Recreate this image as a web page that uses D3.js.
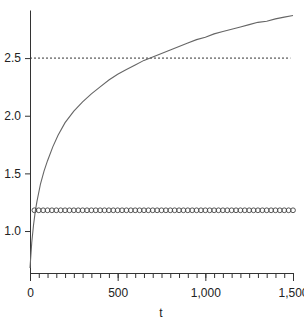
<!DOCTYPE html>
<html>
<head>
<meta charset="utf-8">
<script src="https://cdn.jsdelivr.net/npm/d3@7"></script>
<style>
  body { margin: 0; background: #fff; }
  text { font-family: "Liberation Sans", Arial, sans-serif; font-size: 12px; fill: #222; }
</style>
</head>
<body>
<svg width="304" height="320"></svg>
<script>
// simulated mean curve
var curveT = [0, 10, 20, 30, 40, 60, 80, 100, 130, 160, 200, 250, 300, 350, 400, 450, 500,
    550, 600, 650, 700, 750, 800, 850, 900, 950, 1000, 1050, 1100, 1150, 1200, 1250, 1300,
    1350, 1400, 1450, 1500];
var curveV = [0.68, 0.90, 1.05, 1.17, 1.26, 1.41, 1.52, 1.61, 1.73, 1.83, 1.94, 2.04, 2.12,
    2.19, 2.25, 2.31, 2.36, 2.40, 2.44, 2.48, 2.51, 2.54, 2.57, 2.60, 2.63, 2.66, 2.68, 2.71,
    2.73, 2.75, 2.77, 2.79, 2.81, 2.82, 2.84, 2.855, 2.87];

// circle markers
var markT = d3.range(25, 1501, 25);
var markV = markT.map(function() { return 1.18; });

var refLevel = 2.5;
var yTicks = [1.0, 1.5, 2.0, 2.5];
var xMajor = [0, 500, 1000, 1500];
var xMinor = d3.range(0, 1501, 50);

var svg = d3.select("svg");

var x = d3.scaleLinear().domain([0, 1500]).range([30, 293]);
var y = d3.scaleLinear().domain([0.636, 2.917]).range([273, 10]);

// x axis minor ticks
svg.append("g")
    .attr("transform", "translate(0,273)")
    .call(d3.axisBottom(x).tickValues(xMinor).tickSize(5).tickSizeOuter(0).tickFormat(""))
    .call(function(g) {
        g.select(".domain").attr("stroke", "#333");
        g.selectAll("line").attr("stroke", "#333");
    });

// x axis major ticks + labels
svg.append("g")
    .attr("transform", "translate(0,273)")
    .call(d3.axisBottom(x).tickValues(xMajor).tickSize(8).tickSizeOuter(0).tickPadding(7)
        .tickFormat(d3.format(",")))
    .call(function(g) {
        g.select(".domain").remove();
        g.selectAll("line").attr("stroke", "#333");
        g.selectAll("text").attr("fill", "#222").style("font-size", "12px")
            .style("font-family", "Liberation Sans, Arial, sans-serif");
    });

// y axis
svg.append("g")
    .attr("transform", "translate(30,0)")
    .call(d3.axisLeft(y).tickValues(yTicks).tickSize(5).tickSizeOuter(0).tickPadding(4)
        .tickFormat(d3.format(".1f")))
    .call(function(g) {
        g.select(".domain").attr("stroke", "#333");
        g.selectAll("line").attr("stroke", "#333");
        g.selectAll("text").attr("fill", "#222").style("font-size", "12px")
            .style("font-family", "Liberation Sans, Arial, sans-serif");
    });

svg.append("text")
    .attr("x", 161)
    .attr("y", 317)
    .attr("text-anchor", "middle")
    .text("t");

// reference line
svg.append("line")
    .attr("x1", x(0)).attr("x2", x(1485))
    .attr("y1", y(refLevel)).attr("y2", y(refLevel))
    .attr("stroke", "#333")
    .attr("stroke-dasharray", "2,2");

// curve
var line = d3.line()
    .x(function(d, i) { return x(curveT[i]); })
    .y(function(d) { return y(d); });

svg.append("path")
    .datum(curveV)
    .attr("fill", "none")
    .attr("stroke", "#666")
    .attr("stroke-width", 1.1)
    .attr("d", line);

// markers
svg.append("g")
    .selectAll("circle")
    .data(markV)
    .enter().append("circle")
    .attr("cx", function(d, i) { return x(markT[i]); })
    .attr("cy", function(d) { return y(d); })
    .attr("r", 2.4)
    .attr("fill", "none")
    .attr("stroke", "#444")
    .attr("stroke-width", 0.9);
</script>
</body>
</html>
